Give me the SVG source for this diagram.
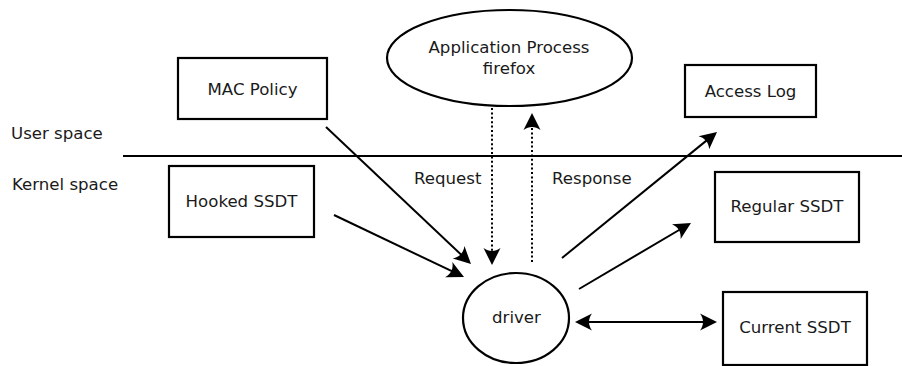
<svg xmlns="http://www.w3.org/2000/svg" width="902" height="366" viewBox="0 0 902 366">
  <style>
    .box { fill: #ffffff; stroke: #000000; stroke-width: 2.2; }
    .lbl { font-family: "DejaVu Sans", Verdana, sans-serif; font-size: 16.6px; fill: #1a1a1a; }
    .mid { text-anchor: middle; }
    .edge { fill: none; stroke: #000000; stroke-width: 2; }
    .solid { marker-end: url(#head); }
    .dotted { stroke-dasharray: 2 2.4; marker-end: url(#head); }
    .both { marker-start: url(#head); marker-end: url(#head); }
  </style>
  <defs>
    <!-- concave filled arrowhead; tip sits 3px past the path end -->
    <marker id="head" markerUnits="userSpaceOnUse" viewBox="-16 -10 20 20" refX="0" refY="0"
            markerWidth="20" markerHeight="20" orient="auto-start-reverse" overflow="visible">
      <path d="M3,0 L-14,-8.5 C-10,-3 -10,3 -14,8.5 Z" fill="#000000"/>
    </marker>
  </defs>

  <rect width="902" height="366" fill="#ffffff"/>

  <!-- user / kernel boundary -->
  <g id="boundary">
    <line x1="123" y1="156" x2="902" y2="156" stroke="#000000" stroke-width="2.2"/>
    <text class="lbl" x="11" y="139">User space</text>
    <text class="lbl" x="12" y="190">Kernel space</text>
  </g>

  <g id="mac-policy">
    <rect class="box" x="178" y="58" width="149" height="61"/>
    <text class="lbl mid" x="252.5" y="95">MAC Policy</text>
  </g>

  <g id="app-process">
    <ellipse class="box" cx="509.5" cy="58" rx="122.5" ry="48"/>
    <text class="lbl mid" x="509" y="53">Application Process</text>
    <text class="lbl mid" x="509" y="74">firefox</text>
  </g>

  <g id="access-log">
    <rect class="box" x="685" y="65" width="131" height="52"/>
    <text class="lbl mid" x="750.5" y="97">Access Log</text>
  </g>

  <g id="hooked-ssdt">
    <rect class="box" x="169" y="166" width="145" height="71"/>
    <text class="lbl mid" x="241.5" y="207">Hooked SSDT</text>
  </g>

  <g id="regular-ssdt">
    <rect class="box" x="715" y="172" width="144" height="70"/>
    <text class="lbl mid" x="787" y="212">Regular SSDT</text>
  </g>

  <g id="current-ssdt">
    <rect class="box" x="723" y="292" width="144" height="73"/>
    <text class="lbl mid" x="795" y="333">Current SSDT</text>
  </g>

  <g id="driver">
    <ellipse class="box" cx="516" cy="318" rx="53" ry="45"/>
    <text class="lbl mid" x="516.5" y="323">driver</text>
  </g>

  <g id="connectors">
    <line class="edge solid" x1="326" y1="127" x2="468.8" y2="261.9"/>
    <line class="edge solid" x1="334" y1="215" x2="461.3" y2="275.7"/>
    <line class="edge dotted" x1="492" y1="108" x2="492" y2="262"/>
    <line class="edge dotted" x1="532" y1="262" x2="532" y2="116"/>
    <line class="edge solid" x1="562" y1="258" x2="714.7" y2="133.9"/>
    <line class="edge solid" x1="579" y1="289" x2="688.4" y2="224.5"/>
    <line class="edge both" x1="578" y1="322" x2="714" y2="322"/>
    <text class="lbl" x="414" y="184">Request</text>
    <text class="lbl" x="552" y="184">Response</text>
  </g>
</svg>
